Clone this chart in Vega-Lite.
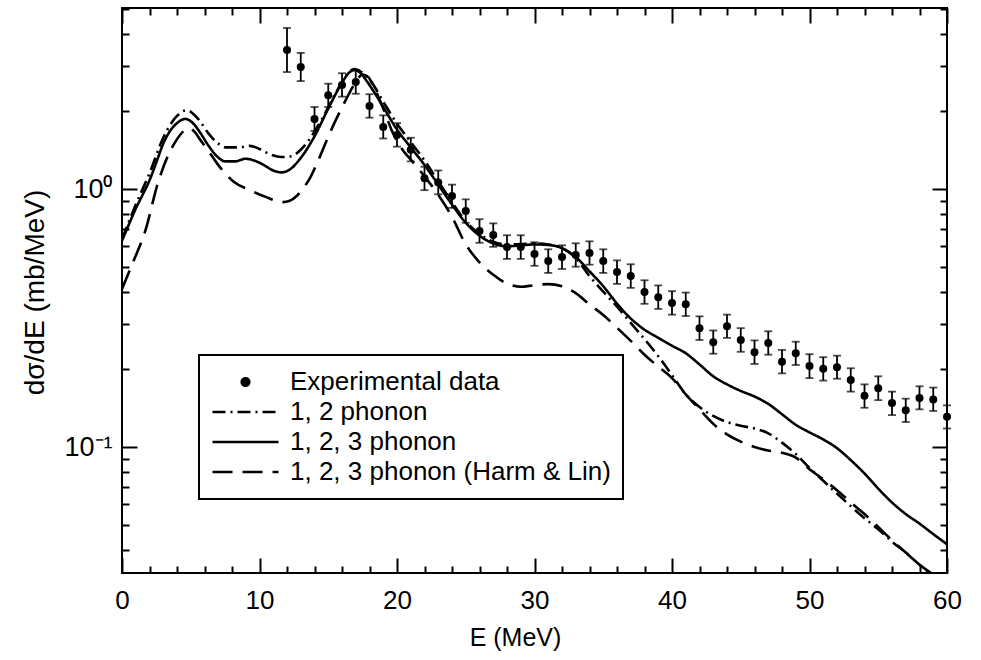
{
  "$schema": "https://vega.github.io/schema/vega-lite/v6.json",
  "width": 825,
  "height": 565,
  "autosize": {"type": "none"},
  "padding": {"left": 122, "top": 8, "right": 34, "bottom": 87},
  "background": "white",
  "config": {
    "view": {"stroke": "black", "strokeWidth": 2},
    "axis": {"grid": false, "domain": false, "labelFont": "Liberation Sans", "titleFont": "Liberation Sans", "labelColor": "black", "titleColor": "black", "tickColor": "black", "tickWidth": 2, "titleFontWeight": "normal", "labelFlush": false, "labelOverlap": false}
  },
  "datasets": {
    "exp": [
      {"E": 12, "v": 3.46, "lo": 2.84, "hi": 4.21},
      {"E": 13, "v": 2.97, "lo": 2.62, "hi": 3.37},
      {"E": 14, "v": 1.87, "lo": 1.68, "hi": 2.08},
      {"E": 15, "v": 2.31, "lo": 2.08, "hi": 2.56},
      {"E": 16, "v": 2.53, "lo": 2.28, "hi": 2.81},
      {"E": 17, "v": 2.6, "lo": 2.34, "hi": 2.89},
      {"E": 18, "v": 2.1, "lo": 1.89, "hi": 2.33},
      {"E": 19, "v": 1.74, "lo": 1.57, "hi": 1.93},
      {"E": 20, "v": 1.62, "lo": 1.46, "hi": 1.8},
      {"E": 21, "v": 1.42, "lo": 1.28, "hi": 1.58},
      {"E": 22, "v": 1.1, "lo": 0.99, "hi": 1.22},
      {"E": 23, "v": 1.06, "lo": 0.954, "hi": 1.18},
      {"E": 24, "v": 0.939, "lo": 0.845, "hi": 1.04},
      {"E": 25, "v": 0.822, "lo": 0.74, "hi": 0.912},
      {"E": 26, "v": 0.688, "lo": 0.619, "hi": 0.764},
      {"E": 27, "v": 0.663, "lo": 0.597, "hi": 0.736},
      {"E": 28, "v": 0.596, "lo": 0.536, "hi": 0.662},
      {"E": 29, "v": 0.596, "lo": 0.536, "hi": 0.662},
      {"E": 30, "v": 0.56, "lo": 0.504, "hi": 0.622},
      {"E": 31, "v": 0.526, "lo": 0.473, "hi": 0.584},
      {"E": 32, "v": 0.545, "lo": 0.49, "hi": 0.605},
      {"E": 33, "v": 0.555, "lo": 0.5, "hi": 0.616},
      {"E": 34, "v": 0.565, "lo": 0.509, "hi": 0.627},
      {"E": 35, "v": 0.526, "lo": 0.473, "hi": 0.584},
      {"E": 36, "v": 0.477, "lo": 0.429, "hi": 0.529},
      {"E": 37, "v": 0.46, "lo": 0.414, "hi": 0.511},
      {"E": 38, "v": 0.399, "lo": 0.359, "hi": 0.443},
      {"E": 39, "v": 0.381, "lo": 0.343, "hi": 0.423},
      {"E": 40, "v": 0.362, "lo": 0.326, "hi": 0.402},
      {"E": 41, "v": 0.358, "lo": 0.322, "hi": 0.397},
      {"E": 42, "v": 0.289, "lo": 0.26, "hi": 0.321},
      {"E": 43, "v": 0.255, "lo": 0.23, "hi": 0.283},
      {"E": 44, "v": 0.294, "lo": 0.265, "hi": 0.326},
      {"E": 45, "v": 0.26, "lo": 0.234, "hi": 0.289},
      {"E": 46, "v": 0.233, "lo": 0.21, "hi": 0.259},
      {"E": 47, "v": 0.253, "lo": 0.228, "hi": 0.281},
      {"E": 48, "v": 0.214, "lo": 0.193, "hi": 0.238},
      {"E": 49, "v": 0.231, "lo": 0.208, "hi": 0.256},
      {"E": 50, "v": 0.206, "lo": 0.185, "hi": 0.229},
      {"E": 51, "v": 0.201, "lo": 0.181, "hi": 0.223},
      {"E": 52, "v": 0.204, "lo": 0.184, "hi": 0.226},
      {"E": 53, "v": 0.182, "lo": 0.164, "hi": 0.202},
      {"E": 54, "v": 0.158, "lo": 0.142, "hi": 0.175},
      {"E": 55, "v": 0.169, "lo": 0.152, "hi": 0.188},
      {"E": 56, "v": 0.148, "lo": 0.133, "hi": 0.164},
      {"E": 57, "v": 0.139, "lo": 0.125, "hi": 0.154},
      {"E": 58, "v": 0.155, "lo": 0.14, "hi": 0.172},
      {"E": 59, "v": 0.153, "lo": 0.138, "hi": 0.17},
      {"E": 60, "v": 0.131, "lo": 0.118, "hi": 0.145}
    ],
    "curves": [
      {"series": "1, 2, 3 phonon", "E": 0, "v": 0.63},
      {"series": "1, 2, 3 phonon", "E": 0.6, "v": 0.75},
      {"series": "1, 2, 3 phonon", "E": 1, "v": 0.84},
      {"series": "1, 2, 3 phonon", "E": 1.5, "v": 0.95},
      {"series": "1, 2, 3 phonon", "E": 2, "v": 1.08},
      {"series": "1, 2, 3 phonon", "E": 2.5, "v": 1.27},
      {"series": "1, 2, 3 phonon", "E": 3, "v": 1.5},
      {"series": "1, 2, 3 phonon", "E": 3.5, "v": 1.68},
      {"series": "1, 2, 3 phonon", "E": 4, "v": 1.8},
      {"series": "1, 2, 3 phonon", "E": 4.6, "v": 1.87},
      {"series": "1, 2, 3 phonon", "E": 5.2, "v": 1.79},
      {"series": "1, 2, 3 phonon", "E": 5.7, "v": 1.65},
      {"series": "1, 2, 3 phonon", "E": 6.3, "v": 1.47},
      {"series": "1, 2, 3 phonon", "E": 6.9, "v": 1.34},
      {"series": "1, 2, 3 phonon", "E": 7.5, "v": 1.28},
      {"series": "1, 2, 3 phonon", "E": 8.2, "v": 1.28},
      {"series": "1, 2, 3 phonon", "E": 9, "v": 1.31},
      {"series": "1, 2, 3 phonon", "E": 9.6, "v": 1.29},
      {"series": "1, 2, 3 phonon", "E": 10.3, "v": 1.24},
      {"series": "1, 2, 3 phonon", "E": 11, "v": 1.18},
      {"series": "1, 2, 3 phonon", "E": 11.6, "v": 1.16},
      {"series": "1, 2, 3 phonon", "E": 12.2, "v": 1.19},
      {"series": "1, 2, 3 phonon", "E": 13, "v": 1.32},
      {"series": "1, 2, 3 phonon", "E": 14, "v": 1.6},
      {"series": "1, 2, 3 phonon", "E": 15, "v": 2.05},
      {"series": "1, 2, 3 phonon", "E": 16, "v": 2.58},
      {"series": "1, 2, 3 phonon", "E": 16.5, "v": 2.82},
      {"series": "1, 2, 3 phonon", "E": 16.9, "v": 2.89},
      {"series": "1, 2, 3 phonon", "E": 17.4, "v": 2.8},
      {"series": "1, 2, 3 phonon", "E": 17.8, "v": 2.62},
      {"series": "1, 2, 3 phonon", "E": 18.5, "v": 2.3},
      {"series": "1, 2, 3 phonon", "E": 19, "v": 2.08},
      {"series": "1, 2, 3 phonon", "E": 20, "v": 1.7},
      {"series": "1, 2, 3 phonon", "E": 21, "v": 1.45},
      {"series": "1, 2, 3 phonon", "E": 22, "v": 1.24},
      {"series": "1, 2, 3 phonon", "E": 23, "v": 1.04},
      {"series": "1, 2, 3 phonon", "E": 24, "v": 0.87},
      {"series": "1, 2, 3 phonon", "E": 25, "v": 0.74},
      {"series": "1, 2, 3 phonon", "E": 26, "v": 0.66},
      {"series": "1, 2, 3 phonon", "E": 27, "v": 0.615},
      {"series": "1, 2, 3 phonon", "E": 28, "v": 0.6},
      {"series": "1, 2, 3 phonon", "E": 29, "v": 0.605},
      {"series": "1, 2, 3 phonon", "E": 30, "v": 0.61},
      {"series": "1, 2, 3 phonon", "E": 31, "v": 0.607},
      {"series": "1, 2, 3 phonon", "E": 32, "v": 0.59},
      {"series": "1, 2, 3 phonon", "E": 33, "v": 0.545},
      {"series": "1, 2, 3 phonon", "E": 34, "v": 0.48},
      {"series": "1, 2, 3 phonon", "E": 35, "v": 0.42},
      {"series": "1, 2, 3 phonon", "E": 36, "v": 0.36},
      {"series": "1, 2, 3 phonon", "E": 37, "v": 0.315},
      {"series": "1, 2, 3 phonon", "E": 38, "v": 0.285},
      {"series": "1, 2, 3 phonon", "E": 39, "v": 0.265},
      {"series": "1, 2, 3 phonon", "E": 40, "v": 0.247},
      {"series": "1, 2, 3 phonon", "E": 41, "v": 0.231},
      {"series": "1, 2, 3 phonon", "E": 42, "v": 0.209},
      {"series": "1, 2, 3 phonon", "E": 43, "v": 0.188},
      {"series": "1, 2, 3 phonon", "E": 44, "v": 0.175},
      {"series": "1, 2, 3 phonon", "E": 45, "v": 0.165},
      {"series": "1, 2, 3 phonon", "E": 46, "v": 0.157},
      {"series": "1, 2, 3 phonon", "E": 47, "v": 0.147},
      {"series": "1, 2, 3 phonon", "E": 48, "v": 0.134},
      {"series": "1, 2, 3 phonon", "E": 49, "v": 0.122},
      {"series": "1, 2, 3 phonon", "E": 50, "v": 0.114},
      {"series": "1, 2, 3 phonon", "E": 51, "v": 0.107},
      {"series": "1, 2, 3 phonon", "E": 52, "v": 0.099},
      {"series": "1, 2, 3 phonon", "E": 53, "v": 0.089},
      {"series": "1, 2, 3 phonon", "E": 54, "v": 0.079},
      {"series": "1, 2, 3 phonon", "E": 55, "v": 0.069},
      {"series": "1, 2, 3 phonon", "E": 56, "v": 0.061},
      {"series": "1, 2, 3 phonon", "E": 57, "v": 0.055},
      {"series": "1, 2, 3 phonon", "E": 58, "v": 0.0505},
      {"series": "1, 2, 3 phonon", "E": 59, "v": 0.046},
      {"series": "1, 2, 3 phonon", "E": 60, "v": 0.042},
      {"series": "1, 2 phonon", "E": 0, "v": 0.64},
      {"series": "1, 2 phonon", "E": 1, "v": 0.87},
      {"series": "1, 2 phonon", "E": 2, "v": 1.15},
      {"series": "1, 2 phonon", "E": 3, "v": 1.58},
      {"series": "1, 2 phonon", "E": 4, "v": 1.92},
      {"series": "1, 2 phonon", "E": 4.7, "v": 2.02},
      {"series": "1, 2 phonon", "E": 5.5, "v": 1.88},
      {"series": "1, 2 phonon", "E": 6.3, "v": 1.64},
      {"series": "1, 2 phonon", "E": 7, "v": 1.5},
      {"series": "1, 2 phonon", "E": 7.6, "v": 1.45},
      {"series": "1, 2 phonon", "E": 8.5, "v": 1.45},
      {"series": "1, 2 phonon", "E": 9.3, "v": 1.47},
      {"series": "1, 2 phonon", "E": 10, "v": 1.43},
      {"series": "1, 2 phonon", "E": 10.8, "v": 1.36},
      {"series": "1, 2 phonon", "E": 11.6, "v": 1.33},
      {"series": "1, 2 phonon", "E": 12.3, "v": 1.34},
      {"series": "1, 2 phonon", "E": 13, "v": 1.42},
      {"series": "1, 2 phonon", "E": 13.6, "v": 1.55},
      {"series": "1, 2 phonon", "E": 14.5, "v": 1.85},
      {"series": "1, 2 phonon", "E": 15.5, "v": 2.33},
      {"series": "1, 2 phonon", "E": 16.3, "v": 2.75},
      {"series": "1, 2 phonon", "E": 16.9, "v": 2.92},
      {"series": "1, 2 phonon", "E": 17.5, "v": 2.82},
      {"series": "1, 2 phonon", "E": 18, "v": 2.66},
      {"series": "1, 2 phonon", "E": 19, "v": 2.18},
      {"series": "1, 2 phonon", "E": 20, "v": 1.79},
      {"series": "1, 2 phonon", "E": 21, "v": 1.52},
      {"series": "1, 2 phonon", "E": 22, "v": 1.29},
      {"series": "1, 2 phonon", "E": 23, "v": 1.07},
      {"series": "1, 2 phonon", "E": 24, "v": 0.89},
      {"series": "1, 2 phonon", "E": 25, "v": 0.75},
      {"series": "1, 2 phonon", "E": 26, "v": 0.67},
      {"series": "1, 2 phonon", "E": 27, "v": 0.625},
      {"series": "1, 2 phonon", "E": 28, "v": 0.61},
      {"series": "1, 2 phonon", "E": 29, "v": 0.612},
      {"series": "1, 2 phonon", "E": 30, "v": 0.615},
      {"series": "1, 2 phonon", "E": 31, "v": 0.61},
      {"series": "1, 2 phonon", "E": 32, "v": 0.59},
      {"series": "1, 2 phonon", "E": 33, "v": 0.54},
      {"series": "1, 2 phonon", "E": 34, "v": 0.46},
      {"series": "1, 2 phonon", "E": 35, "v": 0.4},
      {"series": "1, 2 phonon", "E": 36, "v": 0.35},
      {"series": "1, 2 phonon", "E": 37, "v": 0.303},
      {"series": "1, 2 phonon", "E": 38, "v": 0.262},
      {"series": "1, 2 phonon", "E": 39, "v": 0.225},
      {"series": "1, 2 phonon", "E": 40, "v": 0.19},
      {"series": "1, 2 phonon", "E": 41, "v": 0.16},
      {"series": "1, 2 phonon", "E": 42, "v": 0.143},
      {"series": "1, 2 phonon", "E": 43, "v": 0.132},
      {"series": "1, 2 phonon", "E": 44, "v": 0.125},
      {"series": "1, 2 phonon", "E": 45, "v": 0.121},
      {"series": "1, 2 phonon", "E": 46, "v": 0.118},
      {"series": "1, 2 phonon", "E": 47, "v": 0.113},
      {"series": "1, 2 phonon", "E": 48, "v": 0.104},
      {"series": "1, 2 phonon", "E": 49, "v": 0.094},
      {"series": "1, 2 phonon", "E": 50, "v": 0.083},
      {"series": "1, 2 phonon", "E": 51, "v": 0.074},
      {"series": "1, 2 phonon", "E": 52, "v": 0.066},
      {"series": "1, 2 phonon", "E": 53, "v": 0.059},
      {"series": "1, 2 phonon", "E": 54, "v": 0.053},
      {"series": "1, 2 phonon", "E": 55, "v": 0.048},
      {"series": "1, 2 phonon", "E": 56, "v": 0.043},
      {"series": "1, 2 phonon", "E": 57, "v": 0.039},
      {"series": "1, 2 phonon", "E": 58, "v": 0.035},
      {"series": "1, 2 phonon", "E": 59, "v": 0.0318},
      {"series": "1, 2 phonon", "E": 60, "v": 0.029},
      {"series": "1, 2, 3 phonon (Harm & Lin)", "E": 0, "v": 0.41},
      {"series": "1, 2, 3 phonon (Harm & Lin)", "E": 0.8, "v": 0.52},
      {"series": "1, 2, 3 phonon (Harm & Lin)", "E": 1.7, "v": 0.69},
      {"series": "1, 2, 3 phonon (Harm & Lin)", "E": 2.6, "v": 1.05},
      {"series": "1, 2, 3 phonon (Harm & Lin)", "E": 3.3, "v": 1.33},
      {"series": "1, 2, 3 phonon (Harm & Lin)", "E": 3.9, "v": 1.53},
      {"series": "1, 2, 3 phonon (Harm & Lin)", "E": 4.5, "v": 1.68},
      {"series": "1, 2, 3 phonon (Harm & Lin)", "E": 4.9, "v": 1.72},
      {"series": "1, 2, 3 phonon (Harm & Lin)", "E": 5.3, "v": 1.66},
      {"series": "1, 2, 3 phonon (Harm & Lin)", "E": 5.7, "v": 1.55},
      {"series": "1, 2, 3 phonon (Harm & Lin)", "E": 6.3, "v": 1.4},
      {"series": "1, 2, 3 phonon (Harm & Lin)", "E": 6.9, "v": 1.26},
      {"series": "1, 2, 3 phonon (Harm & Lin)", "E": 7.5, "v": 1.15},
      {"series": "1, 2, 3 phonon (Harm & Lin)", "E": 8.1, "v": 1.07},
      {"series": "1, 2, 3 phonon (Harm & Lin)", "E": 9.3, "v": 0.99},
      {"series": "1, 2, 3 phonon (Harm & Lin)", "E": 10.5, "v": 0.93},
      {"series": "1, 2, 3 phonon (Harm & Lin)", "E": 11.2, "v": 0.9},
      {"series": "1, 2, 3 phonon (Harm & Lin)", "E": 11.7, "v": 0.89},
      {"series": "1, 2, 3 phonon (Harm & Lin)", "E": 12.2, "v": 0.9},
      {"series": "1, 2, 3 phonon (Harm & Lin)", "E": 12.7, "v": 0.94},
      {"series": "1, 2, 3 phonon (Harm & Lin)", "E": 13.2, "v": 1.01},
      {"series": "1, 2, 3 phonon (Harm & Lin)", "E": 13.7, "v": 1.11},
      {"series": "1, 2, 3 phonon (Harm & Lin)", "E": 14.3, "v": 1.3},
      {"series": "1, 2, 3 phonon (Harm & Lin)", "E": 14.9, "v": 1.55},
      {"series": "1, 2, 3 phonon (Harm & Lin)", "E": 15.4, "v": 1.78},
      {"series": "1, 2, 3 phonon (Harm & Lin)", "E": 15.9, "v": 2.02},
      {"series": "1, 2, 3 phonon (Harm & Lin)", "E": 16.4, "v": 2.28},
      {"series": "1, 2, 3 phonon (Harm & Lin)", "E": 16.8, "v": 2.5},
      {"series": "1, 2, 3 phonon (Harm & Lin)", "E": 17.2, "v": 2.7},
      {"series": "1, 2, 3 phonon (Harm & Lin)", "E": 17.5, "v": 2.78},
      {"series": "1, 2, 3 phonon (Harm & Lin)", "E": 17.9, "v": 2.72},
      {"series": "1, 2, 3 phonon (Harm & Lin)", "E": 18.3, "v": 2.5},
      {"series": "1, 2, 3 phonon (Harm & Lin)", "E": 19, "v": 2.05},
      {"series": "1, 2, 3 phonon (Harm & Lin)", "E": 19.7, "v": 1.65},
      {"series": "1, 2, 3 phonon (Harm & Lin)", "E": 20.4, "v": 1.42},
      {"series": "1, 2, 3 phonon (Harm & Lin)", "E": 21, "v": 1.3},
      {"series": "1, 2, 3 phonon (Harm & Lin)", "E": 22, "v": 1.12},
      {"series": "1, 2, 3 phonon (Harm & Lin)", "E": 23, "v": 0.95},
      {"series": "1, 2, 3 phonon (Harm & Lin)", "E": 24, "v": 0.78},
      {"series": "1, 2, 3 phonon (Harm & Lin)", "E": 25, "v": 0.61},
      {"series": "1, 2, 3 phonon (Harm & Lin)", "E": 26, "v": 0.52},
      {"series": "1, 2, 3 phonon (Harm & Lin)", "E": 27, "v": 0.465},
      {"series": "1, 2, 3 phonon (Harm & Lin)", "E": 28, "v": 0.43},
      {"series": "1, 2, 3 phonon (Harm & Lin)", "E": 29, "v": 0.418},
      {"series": "1, 2, 3 phonon (Harm & Lin)", "E": 30, "v": 0.424},
      {"series": "1, 2, 3 phonon (Harm & Lin)", "E": 31, "v": 0.428},
      {"series": "1, 2, 3 phonon (Harm & Lin)", "E": 32, "v": 0.42},
      {"series": "1, 2, 3 phonon (Harm & Lin)", "E": 33, "v": 0.395},
      {"series": "1, 2, 3 phonon (Harm & Lin)", "E": 34, "v": 0.357},
      {"series": "1, 2, 3 phonon (Harm & Lin)", "E": 35, "v": 0.325},
      {"series": "1, 2, 3 phonon (Harm & Lin)", "E": 36, "v": 0.29},
      {"series": "1, 2, 3 phonon (Harm & Lin)", "E": 37, "v": 0.258},
      {"series": "1, 2, 3 phonon (Harm & Lin)", "E": 38, "v": 0.228},
      {"series": "1, 2, 3 phonon (Harm & Lin)", "E": 39, "v": 0.205},
      {"series": "1, 2, 3 phonon (Harm & Lin)", "E": 40, "v": 0.185},
      {"series": "1, 2, 3 phonon (Harm & Lin)", "E": 41, "v": 0.16},
      {"series": "1, 2, 3 phonon (Harm & Lin)", "E": 42, "v": 0.14},
      {"series": "1, 2, 3 phonon (Harm & Lin)", "E": 43, "v": 0.123},
      {"series": "1, 2, 3 phonon (Harm & Lin)", "E": 44, "v": 0.112},
      {"series": "1, 2, 3 phonon (Harm & Lin)", "E": 45, "v": 0.105},
      {"series": "1, 2, 3 phonon (Harm & Lin)", "E": 46, "v": 0.1},
      {"series": "1, 2, 3 phonon (Harm & Lin)", "E": 47, "v": 0.097},
      {"series": "1, 2, 3 phonon (Harm & Lin)", "E": 48, "v": 0.095},
      {"series": "1, 2, 3 phonon (Harm & Lin)", "E": 49, "v": 0.091},
      {"series": "1, 2, 3 phonon (Harm & Lin)", "E": 50, "v": 0.082},
      {"series": "1, 2, 3 phonon (Harm & Lin)", "E": 51, "v": 0.075},
      {"series": "1, 2, 3 phonon (Harm & Lin)", "E": 52, "v": 0.068},
      {"series": "1, 2, 3 phonon (Harm & Lin)", "E": 53, "v": 0.061},
      {"series": "1, 2, 3 phonon (Harm & Lin)", "E": 54, "v": 0.055},
      {"series": "1, 2, 3 phonon (Harm & Lin)", "E": 55, "v": 0.049},
      {"series": "1, 2, 3 phonon (Harm & Lin)", "E": 56, "v": 0.0435},
      {"series": "1, 2, 3 phonon (Harm & Lin)", "E": 57, "v": 0.039},
      {"series": "1, 2, 3 phonon (Harm & Lin)", "E": 58, "v": 0.035},
      {"series": "1, 2, 3 phonon (Harm & Lin)", "E": 59, "v": 0.032},
      {"series": "1, 2, 3 phonon (Harm & Lin)", "E": 60, "v": 0.029}
    ]
  },
  "resolve": {"scale": {"x": "shared", "y": "shared"}, "axis": {"x": "independent", "y": "independent"}},
  "layer": [
    {
      "data": {"name": "exp"},
      "mark": {"type": "point", "filled": true, "color": "black", "size": 64, "opacity": 1},
      "encoding": {
        "x": {"field": "E", "type": "quantitative", "scale": {"domain": [0, 60], "nice": false, "zero": false},
          "axis": {"orient": "bottom", "values": [0, 10, 20, 30, 40, 50, 60], "ticks": false, "labelFontSize": 26, "labelPadding": 14, "title": "E (MeV)", "titleFontSize": 25, "titleX": 393, "titleY": 72, "titleBaseline": "alphabetic"}},
        "y": {"field": "v", "type": "quantitative", "scale": {"type": "log", "domain": [0.0325, 5.03], "nice": false, "zero": false},
          "axis": {"orient": "left", "values": [0.1, 1], "ticks": false, "labelExpr": "datum.value == 1 ? '10⁰' : '10⁻¹'", "labelFontSize": 27, "labelPadding": 10, "labelBaseline": "middle", "title": "dσ/dE (mb/MeV)", "titleFontSize": 28, "titleX": -79, "titleY": 284, "titleBaseline": "alphabetic", "titleAngle": -90}}
      }
    },
    {
      "data": {"name": "exp"},
      "mark": {"type": "rule", "color": "black", "strokeWidth": 1.8},
      "encoding": {
        "x": {"field": "E", "type": "quantitative", "scale": {"domain": [0, 60], "nice": false, "zero": false},
          "axis": {"orient": "bottom", "values": [0, 10, 20, 30, 40, 50, 60], "labels": false, "tickSize": -15, "title": null}},
        "y": {"field": "lo", "type": "quantitative", "scale": {"type": "log", "domain": [0.0325, 5.03], "nice": false, "zero": false},
          "axis": {"orient": "left", "values": [0.1, 1], "labels": false, "tickSize": -15, "title": null}},
        "y2": {"field": "hi"}
      }
    },
    {
      "data": {"name": "exp"},
      "mark": {"type": "tick", "orient": "horizontal", "color": "black", "size": 8, "thickness": 1.8},
      "encoding": {
        "x": {"field": "E", "type": "quantitative", "scale": {"domain": [0, 60], "nice": false, "zero": false},
          "axis": {"orient": "bottom", "values": [2, 4, 6, 8, 12, 14, 16, 18, 22, 24, 26, 28, 32, 34, 36, 38, 42, 44, 46, 48, 52, 54, 56, 58], "labels": false, "tickSize": -7, "title": null}},
        "y": {"field": "hi", "type": "quantitative", "scale": {"type": "log", "domain": [0.0325, 5.03], "nice": false, "zero": false},
          "axis": {"orient": "left", "values": [0.04, 0.05, 0.06, 0.07, 0.08, 0.09, 0.2, 0.3, 0.4, 0.5, 0.6, 0.7, 0.8, 0.9, 2, 3, 4, 5], "labels": false, "tickSize": -7, "title": null}}
      }
    },
    {
      "data": {"name": "exp"},
      "mark": {"type": "tick", "orient": "horizontal", "color": "black", "size": 8, "thickness": 1.8},
      "encoding": {
        "x": {"field": "E", "type": "quantitative", "scale": {"domain": [0, 60], "nice": false, "zero": false},
          "axis": {"orient": "top", "values": [0, 10, 20, 30, 40, 50, 60], "labels": false, "tickSize": -15, "title": null}},
        "y": {"field": "lo", "type": "quantitative", "scale": {"type": "log", "domain": [0.0325, 5.03], "nice": false, "zero": false},
          "axis": {"orient": "right", "values": [0.1, 1], "labels": false, "tickSize": -15, "title": null}}
      }
    },
    {
      "data": {"name": "curves"},
      "mark": {"type": "line", "color": "black", "strokeWidth": 2.6, "interpolate": "monotone", "clip": true},
      "encoding": {
        "x": {"field": "E", "type": "quantitative", "scale": {"domain": [0, 60], "nice": false, "zero": false},
          "axis": {"orient": "top", "values": [2, 4, 6, 8, 12, 14, 16, 18, 22, 24, 26, 28, 32, 34, 36, 38, 42, 44, 46, 48, 52, 54, 56, 58], "labels": false, "tickSize": -7, "title": null}},
        "y": {"field": "v", "type": "quantitative", "scale": {"type": "log", "domain": [0.0325, 5.03], "nice": false, "zero": false},
          "axis": {"orient": "right", "values": [0.04, 0.05, 0.06, 0.07, 0.08, 0.09, 0.2, 0.3, 0.4, 0.5, 0.6, 0.7, 0.8, 0.9, 2, 3, 4, 5], "labels": false, "tickSize": -7, "title": null}},
        "strokeDash": {"field": "series", "type": "nominal",
          "scale": {"domain": ["Experimental data", "1, 2 phonon", "1, 2, 3 phonon", "1, 2, 3 phonon (Harm & Lin)"], "range": [[1, 0], [13, 5, 2, 5], [1, 0], [20, 10]]},
          "legend": {"orient": "none", "legendX": 77, "legendY": 347, "title": null, "direction": "vertical",
            "strokeColor": "black", "fillColor": "white", "padding": 12,
            "labelFont": "Liberation Sans", "labelFontSize": 26, "labelColor": "black", "labelLimit": 0, "labelOffset": 10,
            "symbolSize": 4356, "symbolStrokeWidth": 2.5, "symbolStrokeColor": "black", "symbolType": "stroke",
            "clipHeight": 30, "rowPadding": 0,
            "encode": {
              "symbols": {"update": {
                "shape": {"signal": "datum.value === 'Experimental data' ? 'M-0.115,0A0.115,0.115 0 1,0 0.115,0A0.115,0.115 0 1,0 -0.115,0Z' : 'stroke'"},
                "fill": {"signal": "datum.value === 'Experimental data' ? 'black' : 'transparent'"},
                "stroke": {"value": "black"},
                "strokeWidth": {"value": 2.5},
                "size": {"value": 4356},
                "opacity": {"value": 1}
              }},
              "legend": {"update": {"strokeWidth": {"value": 2}}}
            }
          }
        }
      }
    }
  ]
}
